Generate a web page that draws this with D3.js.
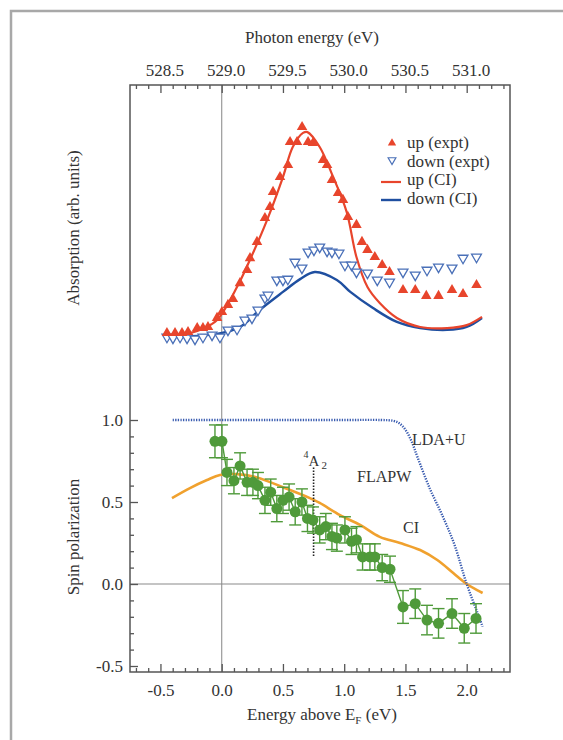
<!DOCTYPE html>
<html><head><meta charset="utf-8">
<script src="https://cdn.jsdelivr.net/npm/d3@7"></script>
<style>
html,body{margin:0;padding:0;background:#fff;}
text{font-family:"Liberation Serif","Times New Roman",serif;fill:#333;}
</style></head>
<body>
<svg id="c" width="563" height="740"></svg>
<script>
// ---------- DATA ----------
// Upper panel: absorption (arb. units) vs energy above EF (eV)
const upCIE   = [-0.445,-0.26,-0.14,-0.038,0.125,0.23,0.37,0.50,0.58,0.664,0.70,0.80,0.91,1.02,1.10,1.19,1.29,1.43,1.62,1.84,2.0,2.125];
const upCIA   = [0.024,0.033,0.057,0.095,0.252,0.381,0.571,0.776,0.919,0.986,0.99,0.919,0.776,0.61,0.395,0.252,0.176,0.105,0.062,0.057,0.071,0.11];
const downCIE = [-0.445,-0.038,0.15,0.31,0.50,0.64,0.76,0.94,1.05,1.235,1.43,1.62,1.84,2.0,2.125];
const downCIA = [0.014,0.029,0.062,0.143,0.229,0.29,0.324,0.286,0.229,0.152,0.086,0.057,0.048,0.062,0.105];
const upExpE  = [-0.447,-0.381,-0.324,-0.275,-0.20,-0.153,-0.112,-0.038,0.002,0.051,0.092,0.149,0.207,0.231,0.288,0.353,0.394,0.419,0.476,0.541,0.558,0.615,0.656,0.705,0.745,0.827,0.86,0.90,0.95,0.99,1.03,1.10,1.145,1.19,1.25,1.31,1.37,1.48,1.58,1.67,1.77,1.88,1.97,2.08];
const upExpA  = [0.033,0.033,0.033,0.038,0.057,0.057,0.062,0.105,0.133,0.167,0.195,0.271,0.333,0.39,0.467,0.581,0.633,0.705,0.776,0.833,0.943,0.943,1.014,0.943,0.938,0.857,0.833,0.762,0.70,0.667,0.586,0.548,0.467,0.429,0.395,0.357,0.324,0.238,0.238,0.21,0.21,0.238,0.219,0.262];
const downExpE = [-0.447,-0.398,-0.34,-0.283,-0.218,-0.153,-0.079,-0.014,0.051,0.125,0.19,0.247,0.296,0.353,0.378,0.45,0.50,0.54,0.598,0.655,0.705,0.753,0.80,0.86,0.90,0.957,1.006,1.06,1.10,1.19,1.27,1.37,1.48,1.58,1.676,1.77,1.88,1.97,2.08];
const downExpA = [0.014,0.01,0.014,0.01,0.005,0.014,0.024,0.014,0.048,0.052,0.095,0.105,0.143,0.20,0.214,0.286,0.286,0.29,0.371,0.343,0.419,0.429,0.443,0.424,0.419,0.414,0.357,0.357,0.324,0.319,0.286,0.276,0.324,0.31,0.333,0.348,0.343,0.39,0.395];

// Lower panel: spin polarization
const ldaE = [-0.40,0.5,1.0,1.3,1.4,1.45,1.5,1.55,1.6,1.7,1.8,1.9,2.0,2.08,2.13];
const ldaP = [1.0,1.0,1.0,1.0,0.995,0.98,0.94,0.87,0.77,0.58,0.42,0.24,0.0,-0.16,-0.26];
const ciE  = [-0.406,-0.259,-0.12,-0.014,0.125,0.288,0.5,0.72,0.80,0.966,1.13,1.29,1.456,1.62,1.76,1.89,2.0,2.085,2.13];
const ciP  = [0.524,0.585,0.634,0.665,0.67,0.65,0.59,0.524,0.494,0.42,0.36,0.287,0.25,0.207,0.146,0.067,0.0,-0.037,-0.055];
const spE  = [-0.055,0.002,0.043,0.10,0.15,0.207,0.255,0.296,0.353,0.40,0.45,0.50,0.55,0.60,0.655,0.70,0.745,0.80,0.85,0.90,0.94,1.006,1.06,1.10,1.15,1.21,1.25,1.31,1.374,1.48,1.58,1.676,1.77,1.88,1.98,2.076];
const spP  = [0.87,0.87,0.68,0.63,0.72,0.62,0.62,0.60,0.51,0.56,0.46,0.51,0.53,0.44,0.50,0.40,0.39,0.33,0.35,0.29,0.28,0.33,0.26,0.27,0.165,0.165,0.165,0.10,0.09,-0.14,-0.12,-0.22,-0.24,-0.18,-0.27,-0.21];
const spErr = [0.10,0.10,0.08,0.08,0.08,0.08,0.08,0.08,0.08,0.08,0.08,0.08,0.08,0.08,0.08,0.08,0.08,0.08,0.08,0.08,0.08,0.08,0.08,0.08,0.08,0.08,0.08,0.08,0.08,0.10,0.09,0.09,0.09,0.09,0.09,0.09];

// Axis ticks
const photonMajor = [528.5,529.0,529.5,530.0,530.5,531.0];
const energyMajor = [-0.5,0.0,0.5,1.0,1.5,2.0];
const spinMajor = [-0.5,0.0,0.5,1.0];
const legendLabels = ["up (expt)","down (expt)","up (CI)","down (CI)"];

// ---------- LAYOUT ----------
const svg = d3.select("#c");
const L=130, R=510, T=85, B=672;
const RED="#e8452c", BLUE="#1f4fa0", BLUE2="#4a70b8", ORANGE="#f0a12e", GREEN="#4f9a3a", FRAME="#555";
const fmt = v => v.toFixed(1);   // plain hyphen-minus like the original

const x = d3.scaleLinear().domain([-0.5,2.0]).range([160.45,466.7]);
const xTop = d3.scaleLinear().domain([528.5,531.0]).range([160.45,466.7]);
const yUp = d3.scaleLinear().domain([0,1]).range([340,130]);
const yLo = d3.scaleLinear().domain([-0.5,1.0]).range([666,420]);

// outer border
svg.append("rect").attr("x",11).attr("y",11).attr("width",570).attr("height",760)
  .attr("fill","none").attr("stroke","#a8a8a8").attr("stroke-width",2.5);

// reference lines
svg.append("line").attr("x1",x(0)).attr("x2",x(0)).attr("y1",T).attr("y2",B)
  .attr("stroke","#9a9a9a").attr("stroke-width",1.2);
svg.append("line").attr("x1",L).attr("x2",R).attr("y1",yLo(0)).attr("y2",yLo(0))
  .attr("stroke","#8a8a8a").attr("stroke-width",1.2);

// ---------- AXES ----------
function styleAxis(g){
  g.select(".domain").remove();
  g.selectAll("line").attr("stroke",FRAME).attr("stroke-width",1.3);
  g.selectAll("text").style("font-family",'"Liberation Serif","Times New Roman",serif')
    .style("font-size","17px").attr("fill","#333");
}
const minorTop = d3.range(528.3,531.36,0.1).map(v=>+v.toFixed(1)).filter(v=>!photonMajor.includes(v));
svg.append("g").attr("transform",`translate(0,${T})`)
  .call(d3.axisTop(xTop).tickValues(minorTop).tickSizeInner(-4).tickSizeOuter(0).tickFormat(""))
  .call(styleAxis);
svg.append("g").attr("transform",`translate(0,${T})`)
  .call(d3.axisTop(xTop).tickValues(photonMajor).tickSizeInner(-8).tickSizeOuter(0).tickPadding(9).tickFormat(fmt))
  .call(styleAxis).selectAll("text").attr("dx",4);

const minorBot = d3.range(-0.7,2.36,0.1).map(v=>+v.toFixed(1)).filter(v=>!energyMajor.includes(v));
svg.append("g").attr("transform",`translate(0,${B})`)
  .call(d3.axisBottom(x).tickValues(minorBot).tickSizeInner(-4).tickSizeOuter(0).tickFormat(""))
  .call(styleAxis);
svg.append("g").attr("transform",`translate(0,${B})`)
  .call(d3.axisBottom(x).tickValues(energyMajor).tickSizeInner(-8).tickSizeOuter(0).tickPadding(12).tickFormat(fmt))
  .call(styleAxis);

const minorLeft = d3.range(-0.5,1.01,0.1).map(v=>+v.toFixed(1)).filter(v=>!spinMajor.includes(v));
svg.append("g").attr("transform",`translate(${L},0)`)
  .call(d3.axisLeft(yLo).tickValues(minorLeft).tickSizeInner(-4).tickSizeOuter(0).tickFormat(""))
  .call(styleAxis);
svg.append("g").attr("transform",`translate(${L},0)`)
  .call(d3.axisLeft(yLo).tickValues(spinMajor).tickSizeInner(-8).tickSizeOuter(0).tickPadding(7).tickFormat(fmt))
  .call(styleAxis);

// frame
svg.append("rect").attr("x",L).attr("y",T).attr("width",R-L).attr("height",B-T)
  .attr("fill","none").attr("stroke",FRAME).attr("stroke-width",1.5);

// titles
svg.append("text").attr("x",312).attr("y",43).attr("text-anchor","middle").style("font-size","17px").text("Photon energy (eV)");
const bt = svg.append("text").attr("x",322).attr("y",720).attr("text-anchor","middle").style("font-size","17px");
bt.append("tspan").text("Energy above E");
bt.append("tspan").attr("dy",4).style("font-size","11px").text("F");
bt.append("tspan").attr("dy",-4).text(" (eV)");
svg.append("text").attr("transform","translate(79,228) rotate(-90)").attr("text-anchor","middle").style("font-size","17px").text("Absorption (arb. units)");
svg.append("text").attr("transform","translate(79,537) rotate(-90)").attr("text-anchor","middle").style("font-size","17px").text("Spin polarization");

// ---------- UPPER PANEL ----------
const lineUp = d3.line().x(d=>x(d[0])).y(d=>yUp(d[1])).curve(d3.curveCatmullRom.alpha(0.5));
svg.append("path").datum(d3.zip(downCIE,downCIA)).attr("d",lineUp)
  .attr("fill","none").attr("stroke",BLUE).attr("stroke-width",2.4);
svg.append("path").datum(d3.zip(upCIE,upCIA)).attr("d",lineUp)
  .attr("fill","none").attr("stroke",RED).attr("stroke-width",2.2);

const tri = d3.symbol().type(d3.symbolTriangle).size(48);
svg.append("g").selectAll("path").data(d3.zip(downExpE,downExpA)).join("path")
  .attr("d",d3.symbol().type(d3.symbolTriangle).size(42))
  .attr("transform",d=>`translate(${x(d[0])},${yUp(d[1])}) rotate(180)`)
  .attr("fill","white").attr("stroke",BLUE2).attr("stroke-width",1.3);
svg.append("g").selectAll("path").data(d3.zip(upExpE,upExpA)).join("path")
  .attr("d",tri)
  .attr("transform",d=>`translate(${x(d[0])},${yUp(d[1])})`)
  .attr("fill",RED);

// legend
const lg = svg.append("g");
lg.append("path").attr("d",d3.symbol().type(d3.symbolTriangle).size(30)).attr("transform","translate(392,143)").attr("fill",RED);
lg.append("path").attr("d",d3.symbol().type(d3.symbolTriangle).size(26)).attr("transform","translate(392,160) rotate(180)").attr("fill","white").attr("stroke",BLUE2).attr("stroke-width",1.2);
lg.append("line").attr("x1",381).attr("x2",401).attr("y1",182).attr("y2",182).attr("stroke",RED).attr("stroke-width",2.2);
lg.append("line").attr("x1",381).attr("x2",401).attr("y1",200).attr("y2",200).attr("stroke",BLUE).attr("stroke-width",2.4);
legendLabels.forEach((t,i)=>{
  lg.append("text").attr("x",407).attr("y",148+i*18.7).style("font-size","17px").text(t);
});

// ---------- LOWER PANEL ----------
const lineLo = d3.line().x(d=>x(d[0])).y(d=>yLo(d[1])).curve(d3.curveCatmullRom.alpha(0.5));
svg.append("path").datum(d3.zip(ciE,ciP)).attr("d",lineLo)
  .attr("fill","none").attr("stroke",ORANGE).attr("stroke-width",2.6);
svg.append("path").datum(d3.zip(ldaE,ldaP)).attr("d",lineLo)
  .attr("fill","none").attr("stroke","#3a5cb0").attr("stroke-width",2.4).attr("stroke-dasharray","1.3,1.3");

// 4A2 marker
svg.append("line").attr("x1",x(0.75)).attr("x2",x(0.75)).attr("y1",yLo(0.71)).attr("y2",yLo(0.165))
  .attr("stroke","#222").attr("stroke-width",1.6).attr("stroke-dasharray","1.5,1.5");
const a2 = svg.append("text").attr("x",x(0.75)-10).attr("y",466).style("font-size","15px").attr("fill","#222");
a2.append("tspan").attr("dy",-8).style("font-size","10px").text("4");
a2.append("tspan").attr("dy",8).text("A");
a2.append("tspan").attr("dy",3).attr("dx",2).style("font-size","11px").text("2");

// labels
svg.append("text").attr("x",412).attr("y",445).style("font-size","16px").attr("fill","#222").text("LDA+U");
svg.append("text").attr("x",357).attr("y",482).style("font-size","16px").attr("fill","#222").text("FLAPW");
svg.append("text").attr("x",403).attr("y",533).style("font-size","16px").attr("fill","#222").text("CI");

// experimental spin polarization
const spData = spE.map((e,i)=>({e, p:spP[i], err:spErr[i]}));
svg.append("path").datum(spData).attr("d",d3.line().x(d=>x(d.e)).y(d=>yLo(d.p)))
  .attr("fill","none").attr("stroke",GREEN).attr("stroke-width",1.4);
const eb = svg.append("g").attr("stroke",GREEN).attr("stroke-width",1.4);
spData.forEach(d=>{
  const cx=x(d.e), y1=yLo(d.p+d.err), y2=yLo(d.p-d.err);
  eb.append("line").attr("x1",cx).attr("x2",cx).attr("y1",y1).attr("y2",y2);
  eb.append("line").attr("x1",cx-6).attr("x2",cx+6).attr("y1",y1).attr("y2",y1);
  eb.append("line").attr("x1",cx-6).attr("x2",cx+6).attr("y1",y2).attr("y2",y2);
});
svg.append("g").selectAll("circle").data(spData).join("circle")
  .attr("cx",d=>x(d.e)).attr("cy",d=>yLo(d.p)).attr("r",5.5).attr("fill",GREEN);
</script>
</body></html>
